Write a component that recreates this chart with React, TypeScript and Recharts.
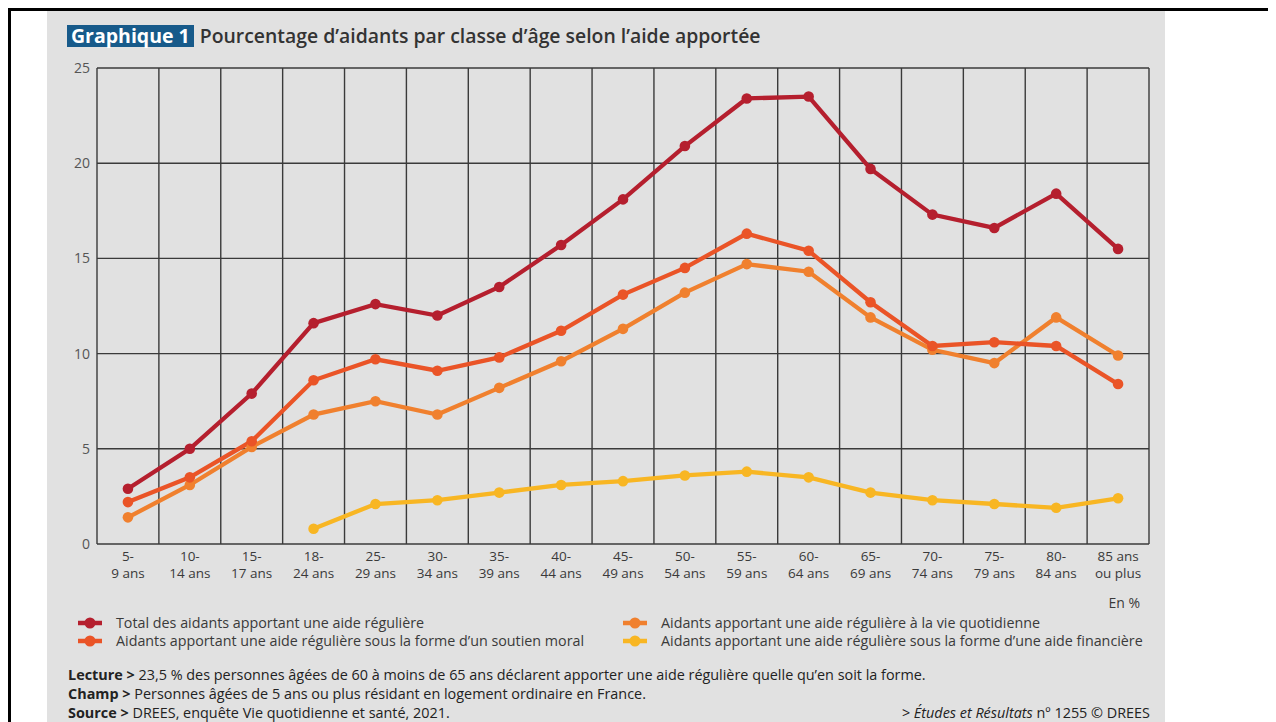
import React from 'react';
import { LineChart, Line, XAxis, YAxis, CartesianGrid } from 'recharts';

// ---------------------------------------------------------------------------
// Data
// ---------------------------------------------------------------------------

const AGE_TOP = ['5-', '10-', '15-', '18-', '25-', '30-', '35-', '40-', '45-', '50-', '55-', '60-', '65-', '70-', '75-', '80-', '85 ans'];
const AGE_BOTTOM = ['9 ans', '14 ans', '17 ans', '24 ans', '29 ans', '34 ans', '39 ans', '44 ans', '49 ans', '54 ans', '59 ans', '64 ans', '69 ans', '74 ans', '79 ans', '84 ans', 'ou plus'];

const TOTAL = [2.9, 5.0, 7.9, 11.6, 12.6, 12.0, 13.5, 15.7, 18.1, 20.9, 23.4, 23.5, 19.7, 17.3, 16.6, 18.4, 15.5];
const SOUTIEN_MORAL = [2.2, 3.5, 5.4, 8.6, 9.7, 9.1, 9.8, 11.2, 13.1, 14.5, 16.3, 15.4, 12.7, 10.4, 10.6, 10.4, 8.4];
const VIE_QUOTIDIENNE = [1.4, 3.1, 5.1, 6.8, 7.5, 6.8, 8.2, 9.6, 11.3, 13.2, 14.7, 14.3, 11.9, 10.2, 9.5, 11.9, 9.9];
const AIDE_FINANCIERE = [null, null, null, 0.8, 2.1, 2.3, 2.7, 3.1, 3.3, 3.6, 3.8, 3.5, 2.7, 2.3, 2.1, 1.9, 2.4];

const Y_TICKS = [0, 5, 10, 15, 20, 25];

const SERIES = [
  { key: 'quotidienne', label: 'Aidants apportant une aide régulière à la vie quotidienne', color: '#f0802e' },
  { key: 'financiere', label: 'Aidants apportant une aide régulière sous la forme d’une aide financière', color: '#f8b623' },
  { key: 'moral', label: 'Aidants apportant une aide régulière sous la forme d’un soutien moral', color: '#ea5427' },
  { key: 'total', label: 'Total des aidants apportant une aide régulière', color: '#b51f2e' },
];

const data = AGE_TOP.map((_, i) => ({
  i,
  total: TOTAL[i],
  moral: SOUTIEN_MORAL[i],
  quotidienne: VIE_QUOTIDIENNE[i],
  financiere: AIDE_FINANCIERE[i],
}));
const X_TICKS = data.map(d => d.i);

// ---------------------------------------------------------------------------
// Layout
// ---------------------------------------------------------------------------

const FONT = '"Open Sans", "DejaVu Sans", sans-serif';
const TEXT = '#3a3a3a';
const GRID = '#3a3a3a';

const CHART_W = 1110;
const CHART_H = 532;
const MARGIN = { top: 16, right: 9, bottom: 0, left: 0 };
const Y_W = 49;
const X_H = 40;
const PLOT_LEFT = MARGIN.left + Y_W;
const PLOT_W = CHART_W - PLOT_LEFT - MARGIN.right;

function AgeTick({ x, y, payload }: { x?: number; y?: number; payload?: { value: number } }) {
  if (x == null || y == null || !payload) return null;
  const i = payload.value;
  return (
    <text x={x} y={y} textAnchor="middle" fill={TEXT} fontSize={13.5} fontFamily={FONT}>
      <tspan x={x} dy={17}>{AGE_TOP[i]}</tspan>
      <tspan x={x} dy={17}>{AGE_BOTTOM[i]}</tspan>
    </text>
  );
}

function LegendItem({ color, label }: { color: string; label: string }) {
  return (
    <div style={{ display: 'flex', alignItems: 'center', height: 18 }}>
      <svg width={24} height={12} style={{ marginRight: 14, flexShrink: 0 }}>
        <line x1={0} y1={6} x2={24} y2={6} stroke={color} strokeWidth={4.5} />
        <circle cx={12} cy={6} r={5.5} fill={color} />
      </svg>
      <span>{label}</span>
    </div>
  );
}

export default function App() {
  const byKey = (k: string) => SERIES.find(s => s.key === k)!;
  return (
    <div style={{ position: 'relative', width: 1268, height: 714, boxSizing: 'border-box', borderTop: '3px solid #000', borderLeft: '3px solid #000', fontFamily: FONT, color: TEXT }}>
      <div style={{ position: 'absolute', left: 36, top: 0, width: 1118, height: 711, background: '#e1e1e1' }} />

      {/* title */}
      <div style={{ position: 'absolute', left: 56, top: 14, display: 'flex', alignItems: 'center', whiteSpace: 'nowrap' }}>
        <span style={{ background: '#175a8a', color: '#fff', fontWeight: 700, fontSize: 19.5, padding: '0 4px', lineHeight: '22px' }}>Graphique 1</span>
        <span style={{ marginLeft: 6, fontWeight: 600, fontSize: 19.4, color: '#333', lineHeight: '22px' }}>Pourcentage d’aidants par classe d’âge selon l’aide apportée</span>
      </div>

      {/* chart */}
      <div style={{ position: 'absolute', left: 37, top: 41 }}>
        <LineChart width={CHART_W} height={CHART_H} data={data} margin={MARGIN}>
          <CartesianGrid
            stroke={GRID}
            strokeWidth={1.4}
            verticalCoordinatesGenerator={() => X_TICKS.concat([X_TICKS.length]).map(k => PLOT_LEFT + (PLOT_W * k) / X_TICKS.length)}
          />
          <XAxis
            dataKey="i"
            type="number"
            domain={[-0.5, X_TICKS.length - 0.5]}
            ticks={X_TICKS}
            interval={0}
            height={X_H}
            axisLine={false}
            tickLine={false}
            tickSize={0}
            tickMargin={0}
            tick={<AgeTick />}
          />
          <YAxis
            domain={[0, 25]}
            ticks={Y_TICKS}
            width={Y_W}
            axisLine={false}
            tickLine={false}
            tickSize={0}
            tickMargin={7}
            tick={{ fill: '#555', fontSize: 14, fontFamily: FONT }}
          />
          {SERIES.map(s => (
            <Line
              key={s.key}
              dataKey={s.key}
              stroke={s.color}
              strokeWidth={4.3}
              dot={{ r: 5.3, fill: s.color, stroke: s.color, strokeWidth: 0 }}
              activeDot={false}
              connectNulls={false}
              isAnimationActive={false}
            />
          ))}
        </LineChart>
      </div>

      <div style={{ position: 'absolute', right: 136, top: 582, fontSize: 14 }}>En %</div>

      {/* legend */}
      <div style={{ position: 'absolute', left: 67, top: 603, fontSize: 14.3, lineHeight: '18px' }}>
        <LegendItem color={byKey('total').color} label={byKey('total').label} />
        <LegendItem color={byKey('moral').color} label={byKey('moral').label} />
      </div>
      <div style={{ position: 'absolute', left: 612, top: 603, fontSize: 14.3, lineHeight: '18px' }}>
        <LegendItem color={byKey('quotidienne').color} label={byKey('quotidienne').label} />
        <LegendItem color={byKey('financiere').color} label={byKey('financiere').label} />
      </div>

      {/* notes */}
      <div style={{ position: 'absolute', left: 57, top: 654, fontSize: 14.4, lineHeight: '19px', color: '#222', whiteSpace: 'nowrap' }}>
        <div><b>Lecture &gt;</b> 23,5 % des personnes âgées de 60 à moins de 65 ans déclarent apporter une aide régulière quelle qu’en soit la forme.</div>
        <div><b>Champ &gt;</b> Personnes âgées de 5 ans ou plus résidant en logement ordinaire en France.</div>
        <div><b>Source &gt;</b> DREES, enquête Vie quotidienne et santé, 2021.</div>
      </div>
      <div style={{ position: 'absolute', right: 126, top: 692, fontSize: 14.4, lineHeight: '19px', color: '#222', whiteSpace: 'nowrap' }}>
        &gt; <i>Études et Résultats</i> nº 1255 © DREES
      </div>
    </div>
  );
}
